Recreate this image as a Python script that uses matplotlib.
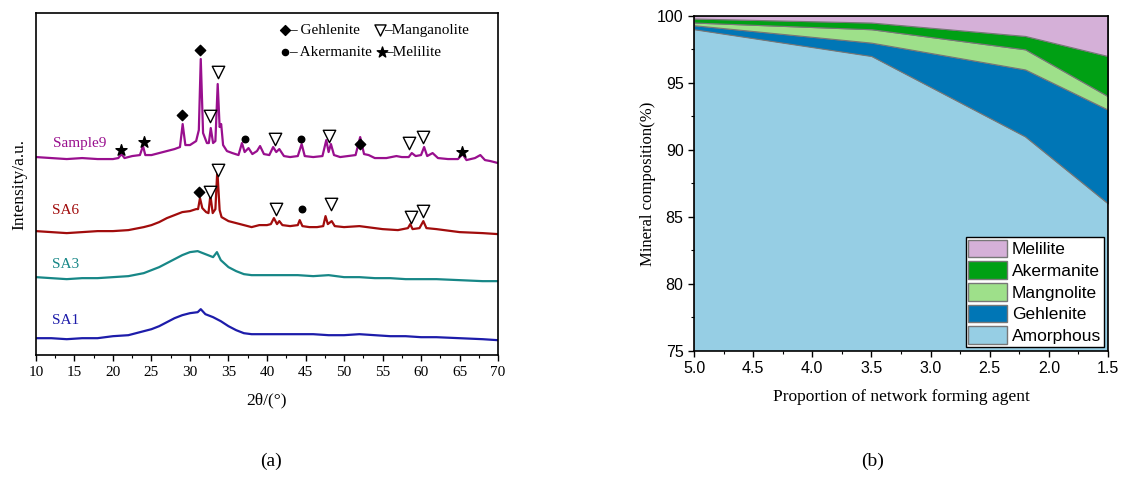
import matplotlib
matplotlib.use("Agg")
import matplotlib.pyplot as plt
from matplotlib.patches import Patch
from matplotlib.ticker import MultipleLocator

SERIF = ["Liberation Serif", "DejaVu Serif"]
SANS = ["Liberation Sans", "DejaVu Sans"]

# ---- (a) XRD patterns: (2theta, stacked intensity) ----
sample9 = [(10,198),(12,197),(14,196),(16,197),(18,196),(20,196),(20.7,197),(21.1,201),(21.5,197),
           (22.5,199),(23.5,200),(23.9,209),(24.2,200),(25,200),(26,202),(27,204),(28,206),(28.7,208),
           (29.05,231),(29.4,210),(30,210),(30.8,214),(31.15,225),(31.4,296),(31.7,222),(32.2,212),
           (32.45,212),(32.7,227),(33.0,212),(33.3,214),(33.6,271),(33.85,228),(34.05,231),(34.3,210),
           (34.8,204),(35.5,202),(36.3,200),(36.75,212),(37.1,203),(37.6,207),(38.1,201),(38.7,204),
           (39.1,209),(39.6,201),(40.3,200),(40.8,208),(41.2,203),(41.6,206),(42.2,199),(43,198),
           (44.0,199),(44.5,211),(44.9,199),(46,198),(47.2,199),(47.7,215),(48.0,203),(48.3,211),
           (48.7,200),(49.5,198),(50.5,199),(51.5,200),(52.1,218),(52.6,201),(53.2,200),(54,197),
           (55.5,197),(56.8,199),(57.5,198),(58.4,198),(58.8,202),(59.3,199),(60,200),(60.4,208),
           (60.8,199),(61.5,202),(62.2,197),(63.5,196),(64.8,196),(65.4,201),(65.9,195),(67,197),
           (67.7,200),(68.3,195),(69,194),(70,192)]
sa6 = [(10,124),(12,123),(14,122),(16,123),(18,124),(20,124),(22,125),(24,128),(25,130),(26,133),
       (27,137),(28,140),(29,143),(30,144),(30.8,146),(31.05,146),(31.3,157),(31.6,147),(32.1,143),
       (32.4,142),(32.65,160),(32.95,142),(33.3,146),(33.55,185),(33.85,145),(34.1,138),(35,134),
       (36,132),(37,130),(38,128),(39,130),(40,130),(40.5,131),(40.9,137),(41.3,131),(41.6,134),
       (42,130),(43,129),(44,130),(44.25,135),(44.6,129),(45.5,128),(46.5,128),(47.3,129),(47.6,139),
       (47.9,131),(48.4,134),(48.8,129),(50,128),(52,129),(53,128),(55,126),(57,125),(58.3,127),
       (58.6,131),(58.9,126),(59.8,127),(60.3,134),(60.7,127),(62,126),(65,123),(68,122),(70,121)]
sa3 = [(10,78),(12,77),(14,76),(16,77),(18,77),(20,78),(22,79),(24,82),(25,85),(26,88),(27,92),
       (28,96),(29,100),(30,103),(31,104),(32,101),(33,98),(33.5,103),(34,95),(35,88),(36,84),
       (37,81),(38,80),(40,80),(42,80),(44,80),(46,79),(48,80),(50,78),(52,78),(54,77),(56,77),
       (58,76),(60,76),(62,76),(65,75),(68,74),(70,74)]
sa1 = [(10,17),(12,17),(14,16),(16,17),(18,17),(20,19),(22,20),(23,22),(24,24),(25,26),(26,29),
       (27,33),(28,37),(29,40),(30,42),(31,43),(31.4,46),(32,41),(33,38),(34,34),(35,29),(36,25),
       (37,22),(38,21),(40,21),(42,21),(44,21),(46,21),(48,20),(50,20),(52,21),(54,20),(56,19),
       (58,19),(60,18),(62,18),(65,17),(68,16),(70,15)]

series_names = ["Sample9", "SA6", "SA3", "SA1"]
series_data = [sample9, sa6, sa3, sa1]
series_colors = ["#990f8e", "#a10c0c", "#178787", "#1d1caa"]
label_pos = [(15.7, 212), (13.8, 145), (13.8, 91), (13.9, 35)]

# phase markers: (2theta, height, phase)
phase_marks = [
    (21.1, 205, "mel"), (24.0, 213, "mel"), (29.0, 240, "geh"), (31.3, 305, "geh"),
    (32.6, 239, "man"), (33.6, 283, "man"), (37.1, 216, "ake"), (41.0, 216, "man"),
    (44.4, 216, "ake"), (48.1, 219, "man"), (52.1, 211, "geh"), (58.5, 212, "man"),
    (60.3, 218, "man"), (65.3, 203, "mel"),
    (31.2, 163, "geh"), (32.6, 163, "man"), (33.6, 185, "man"), (41.2, 146, "man"),
    (44.5, 146, "ake"), (48.3, 151, "man"), (58.7, 138, "man"), (60.3, 144, "man"),
]
marker_style = {
    "geh": dict(marker="D", s=28, facecolor="black", edgecolor="black"),
    "man": dict(marker="v", s=80, facecolor="white", edgecolor="black", linewidth=1.0),
    "ake": dict(marker="o", s=22, facecolor="black", edgecolor="black"),
    "mel": dict(marker="*", s=70, facecolor="black", edgecolor="black"),
}

# phase key: (axes x, axes y, phase, text)
key_items = [
    (0.539, 0.95, "geh", "– Gehlenite"),
    (0.745, 0.95, "man", "–Manganolite"),
    (0.539, 0.885, "ake", "– Akermanite"),
    (0.748, 0.885, "mel", "–Melilite"),
]

# ---- (b) mineral composition ----
proportion = [5.0, 3.5, 2.2, 1.5]
amorphous = [99.0, 97.0, 91.0, 86.0]
gehlenite = [0.3, 1.0, 5.0, 7.0]
mangnolite = [0.2, 1.0, 1.5, 1.0]
akermanite = [0.3, 0.5, 1.0, 3.0]
melilite = [0.2, 0.5, 1.5, 3.0]
phase_names = ["Amorphous", "Gehlenite", "Mangnolite", "Akermanite", "Melilite"]
phase_colors = ["#96cee4", "#0076b6", "#9ee08a", "#00a014", "#d5b0d8"]

fig = plt.figure(figsize=(11.23, 4.8), dpi=100)

# panel (a)
ax1 = fig.add_axes([0.032, 0.26, 0.4115, 0.713])
for name, data, col, (lx, ly) in zip(series_names, series_data, series_colors, label_pos):
    xs = [p[0] for p in data]
    ys = [p[1] for p in data]
    ax1.plot(xs, ys, color=col, lw=1.6)
    ax1.text(lx, ly, name, color=col, fontsize=11, family=SERIF, ha="center", va="center")
for x, y, kind in phase_marks:
    ax1.scatter([x], [y], zorder=5, **marker_style[kind])

for kx, ky, kind, txt in key_items:
    st = dict(marker_style[kind])
    st["s"] = st["s"] * (0.8 if kind == "man" else 0.9)
    ax1.scatter([kx], [ky], transform=ax1.transAxes, zorder=5, clip_on=False, **st)
    ax1.text(kx + 0.008, ky, txt, transform=ax1.transAxes, fontsize=11, family=SERIF, va="center")

ax1.set_xlim(10, 70)
ax1.set_ylim(0, 342)
ax1.set_yticks([])
ax1.xaxis.set_major_locator(MultipleLocator(5))
ax1.xaxis.set_minor_locator(MultipleLocator(2.5))
ax1.tick_params(axis="x", direction="out", length=4, width=1, labelsize=11)
ax1.tick_params(axis="x", which="minor", direction="out", length=2.5, width=0.8)
for lab in ax1.get_xticklabels():
    lab.set_family(SERIF)
for sp in ax1.spines.values():
    sp.set_linewidth(1.2)
ax1.set_xlabel("2θ/(°)", fontsize=12.5, family=SERIF, labelpad=10)
ax1.set_ylabel("Intensity/a.u.", fontsize=12.5, family=SERIF, labelpad=6)

# panel (b)
ax2 = fig.add_axes([0.618, 0.269, 0.3686, 0.698])
ax2.stackplot(proportion, amorphous, gehlenite, mangnolite, akermanite, melilite,
              colors=phase_colors, edgecolor="#777777", linewidth=0.8)
ax2.set_xlim(5.0, 1.5)
ax2.set_ylim(75, 100)
ax2.xaxis.set_minor_locator(MultipleLocator(0.25))
ax2.yaxis.set_major_locator(MultipleLocator(5))
ax2.yaxis.set_minor_locator(MultipleLocator(2.5))
ax2.set_xticks([5.0, 4.5, 4.0, 3.5, 3.0, 2.5, 2.0, 1.5])
ax2.set_xticklabels(["5.0", "4.5", "4.0", "3.5", "3.0", "2.5", "2.0", "1.5"])
ax2.tick_params(direction="out", length=4, width=1, labelsize=11.5)
ax2.tick_params(which="minor", direction="out", length=2.5, width=0.8)
for lab in ax2.get_xticklabels() + ax2.get_yticklabels():
    lab.set_family(SANS)
for sp in ax2.spines.values():
    sp.set_linewidth(1.2)
ax2.set_xlabel("Proportion of network forming agent", fontsize=12.5, family=SERIF, labelpad=9)
ax2.set_ylabel("Mineral composition(%)", fontsize=12, family=SERIF, labelpad=1)

handles = [Patch(facecolor=c, edgecolor="#777777", linewidth=1.0, label=n)
           for n, c in zip(phase_names, phase_colors)][::-1]
leg = ax2.legend(handles=handles, loc="lower right", prop={"family": SANS, "size": 12.5},
                 fancybox=False, framealpha=1, edgecolor="black", borderpad=0.15,
                 labelspacing=0.22, handlelength=2.25, handleheight=1.2, handletextpad=0.25,
                 borderaxespad=0.25)
leg.get_frame().set_linewidth(1.0)

fig.text(0.241, 0.03, "(a)", fontsize=14, family=SERIF, ha="center")
fig.text(0.777, 0.03, "(b)", fontsize=14, family=SERIF, ha="center")

fig.savefig("out.png", dpi=100)
